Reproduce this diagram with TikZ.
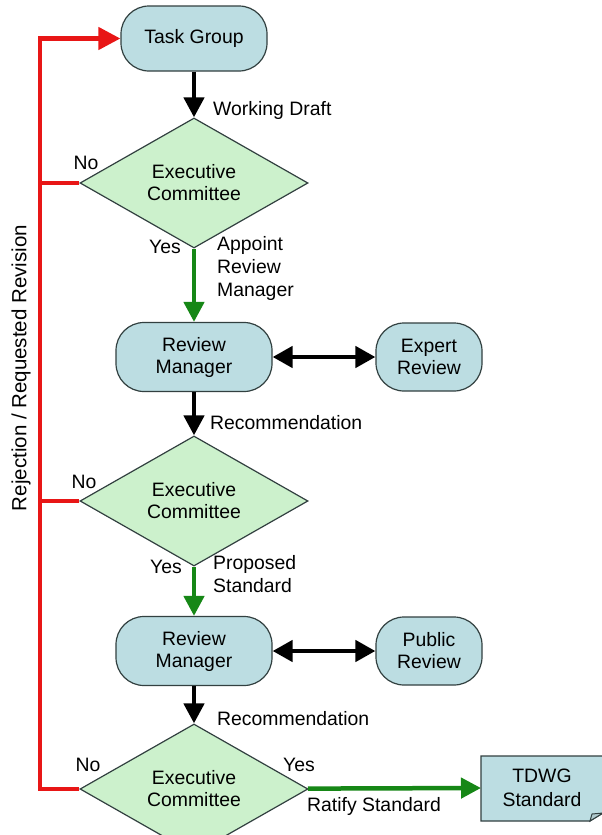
\documentclass[tikz,border=0pt]{standalone}
\usepackage{fontspec}
\setmainfont{Liberation Sans}
\usetikzlibrary{arrows.meta,shapes.geometric}
\definecolor{boxfill}{RGB}{188,221,226}
\definecolor{dfill}{RGB}{204,241,204}
\definecolor{edgecol}{RGB}{50,64,64}
\definecolor{flowgreen}{RGB}{22,135,22}
\definecolor{flowred}{RGB}{232,22,22}
\begin{document}
\begin{tikzpicture}[x=1pt,y=-1pt,
  every node/.style={font=\fontsize{19.4}{22}\selectfont, text=black},
  lbl/.style={inner sep=0pt, align=left, font=\fontsize{19.4}{23.3}\selectfont},
  tgbox/.style={draw=edgecol, line width=1.2pt, fill=boxfill, rounded corners=28pt,
    minimum width=146pt, minimum height=65pt, inner sep=0pt, align=center},
  rmbox/.style={draw=edgecol, line width=1.2pt, fill=boxfill, rounded corners=28pt,
    minimum width=156pt, minimum height=69pt, inner sep=0pt, align=center},
  revbox/.style={draw=edgecol, line width=1.2pt, fill=boxfill, rounded corners=28pt,
    minimum width=106pt, minimum height=68pt, inner sep=0pt, align=center},
  decision/.style={diamond, draw=edgecol, line width=1.2pt, fill=dfill,
    minimum width=228pt, minimum height=94pt, inner sep=0pt, align=center},
  flowblack/.style={line width=4.5pt, black, -{Triangle[length=20pt,width=20pt]}},
  flowboth/.style={line width=4.5pt, black, {Triangle[length=20pt,width=21pt]}-{Triangle[length=20pt,width=21pt]}},
  flowgr/.style={line width=4.5pt, flowgreen, -{Triangle[length=20pt,width=20pt]}},
  flowrd/.style={line width=4.5pt, flowred, line join=miter},
]
\useasboundingbox (0,0) rectangle (602,835);
\fill[white] (0,0) rectangle (602,835);

% nodes
\node[tgbox] (tg) at (194,38.5) {Task Group};
\node[decision] (d1) at (194,183) {Executive\\Committee};
\node[rmbox] (rm1) at (194,357) {Review\\Manager};
\node[revbox] (er) at (429,357) {Expert\\Review};
\node[decision] (d2) at (194,501) {Executive\\Committee};
\node[rmbox] (rm2) at (194,651) {Review\\Manager};
\node[revbox] (pr) at (429,651) {Public\\Review};
\node[decision] (d3) at (194,789) {Executive\\Committee};

% TDWG document shape
\draw[draw=edgecol, line width=1.2pt, fill=boxfill]
  (481,756) -- (603,756) -- (603,813) -- (590,821) -- (481,821) -- cycle;
\draw[draw=edgecol, line width=1pt, fill=boxfill!80!gray] (590,821) -- (592,814) -- (603,813) -- cycle;
\node[align=center, inner sep=0pt, font=\fontsize{19.4}{24}\selectfont] (tdwg) at (542,788) {TDWG\\Standard};

% red rejection path
\coordinate (rtop) at (40,38.5);
\coordinate (rbot) at (40,789);
\draw[flowrd, -{Triangle[length=22pt,width=22pt]}] (d3.west) -- (rbot) -- (rtop) -- (tg.west);
\draw[flowrd] (d1.west) -- (d1.west -| rtop);
\draw[flowrd] (d2.west) -- (d2.west -| rtop);

% main flow
\draw[flowblack] (tg) -- (d1);
\draw[flowgr] (d1) -- (rm1);
\draw[flowboth] (rm1) -- (er);
\draw[flowblack] (rm1) -- (d2);
\draw[flowgr] (d2) -- (rm2);
\draw[flowboth] (rm2) -- (pr);
\draw[flowblack] (rm2) -- (d3);
\draw[flowgr] (d3) -- (tdwg.west -| 481,0);

% labels
\node[lbl, anchor=west] (wd) at (213,110) {Working Draft};
\node[lbl] (no1) at (86,163) {No};
\node[lbl] (yes1) at (165,247) {Yes};
\node[lbl, anchor=west] (arm) at (217,268.5) {Appoint\\Review\\Manager};
\node[lbl, anchor=west] (rec1) at (210,423) {Recommendation};
\node[lbl] (no2) at (84,482) {No};
\node[lbl] (yes2) at (166,567) {Yes};
\node[lbl, anchor=west] (ps) at (213,574) {Proposed\\Standard};
\node[lbl, anchor=west] (rec2) at (217,719) {Recommendation};
\node[lbl] (no3) at (88,765) {No};
\node[lbl] (yes3) at (299,765) {Yes};
\node[lbl, anchor=west] (rs) at (307,806) {Ratify Standard};
\node[lbl, rotate=90, font=\fontsize{20.5}{24}\selectfont] (rej) at (21,368) {Rejection / Requested Revision};
\end{tikzpicture}
\end{document}
